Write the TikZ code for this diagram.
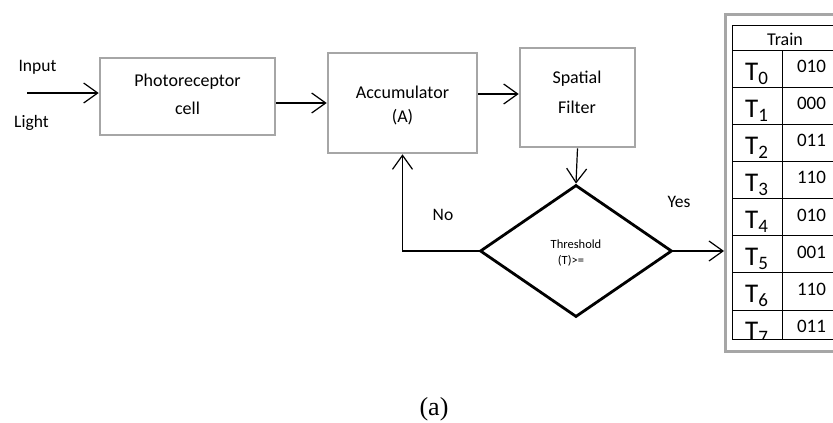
\documentclass[tikz,border=0pt]{standalone}
\usepackage{fontspec}
\setmainfont{Carlito}
\newfontfamily\capfont{Liberation Serif}
\usepackage{tikz}
\usetikzlibrary{shapes.geometric,arrows.meta}

\begin{document}
\begin{tikzpicture}[x=1pt,y=-1pt,
  blk/.style={draw=black!35,line width=2.6pt,inner sep=0pt},
  arr/.style={-{Straight Barb[length=14pt,width=20pt,line width=1.2pt]},line width=1.2pt},
  txt/.style={anchor=base,inner sep=0pt,font=\fontsize{18}{20}\selectfont},
  lbl/.style={txt,font=\fontsize{17.5}{20}\selectfont},
  small/.style={txt,font=\fontsize{12.5}{14}\selectfont},
  cell/.style={txt,font=\fontsize{19}{20}\selectfont}]
\useasboundingbox (0,0) rectangle (833,423);

\node[blk,minimum width=175pt,minimum height=77pt] (photo) at (187.5,96.5) {};
\node[blk,minimum width=149pt,minimum height=100pt] (acc) at (402.5,103) {};
\node[blk,minimum width=115pt,minimum height=99pt] (spat) at (577.5,97.5) {};
\node[diamond,draw,line width=2.8pt,aspect=1.45,minimum width=192pt,minimum height=132pt,inner sep=0pt] (dec) at (576,251) {};
\node[draw=black!35,line width=2.6pt,minimum width=140pt,minimum height=337pt,anchor=north west,inner sep=0pt] (tbl) at (724,13) {};

\node[txt] (photo1) at (187.5,86.5) {Photoreceptor};
\node[txt] (photo2) at (187.5,114) {cell};
\node[txt] (acc1) at (402.5,98) {Accumulator};
\node[txt] (acc2) at (402.5,122) {(A)};
\node[txt] (spat1) at (577,83) {Spatial};
\node[txt] (spat2) at (577,113) {Filter};
\node[small] (dec1) at (576,248) {Threshold};
\node[small] (dec2) at (571,264.5) {(T)>=};

\node[lbl] (inp) at (37.5,71.5) {Input};
\node[lbl] (lit) at (31.5,127.5) {Light};
\node[lbl] (no) at (443,220) {No};
\node[lbl] (yes) at (679,207) {Yes};

\coordinate (src) at (27,93);
\draw[arr] (src) -- (src -| photo.west);
\draw[arr] (photo.east |- acc.west) -- (acc.west);
\draw[arr] ([yshift=9pt]acc.east) -- ([yshift=9pt]acc.east -| spat.west);
\draw[arr] (spat.south) -- (dec.north);
\draw[arr] (dec.west) -| (acc.south);
\draw[arr] (dec.east) -- (dec.east -| tbl.west);

\begin{scope}
\clip (731,24) rectangle (840,339.5);
\draw[line width=0.9pt] (732,25) rectangle (850,339);
\draw[line width=0.9pt] (782,50) -- (782,339);
\node[txt] (train) at (785,45) {Train};
\foreach \val [count=\i from 0] in {010,000,011,110,010,001,110,011} {
\draw[line width=0.9pt] (732,50+37.14*\i) -- +(120,0);
\node[txt,anchor=base west,font=\fontsize{27}{30}\selectfont] (t\i) at (745,80+37.14*\i) {T\raisebox{-4pt}{\fontsize{19}{20}\selectfont\i}};
\node[cell] (v\i) at (811.5,72.5+37.14*\i) {\val};
}
\end{scope}

\node[txt,font=\capfont\fontsize{26}{30}\selectfont] (cap) at (434,415) {(a)};
\end{tikzpicture}
\end{document}
